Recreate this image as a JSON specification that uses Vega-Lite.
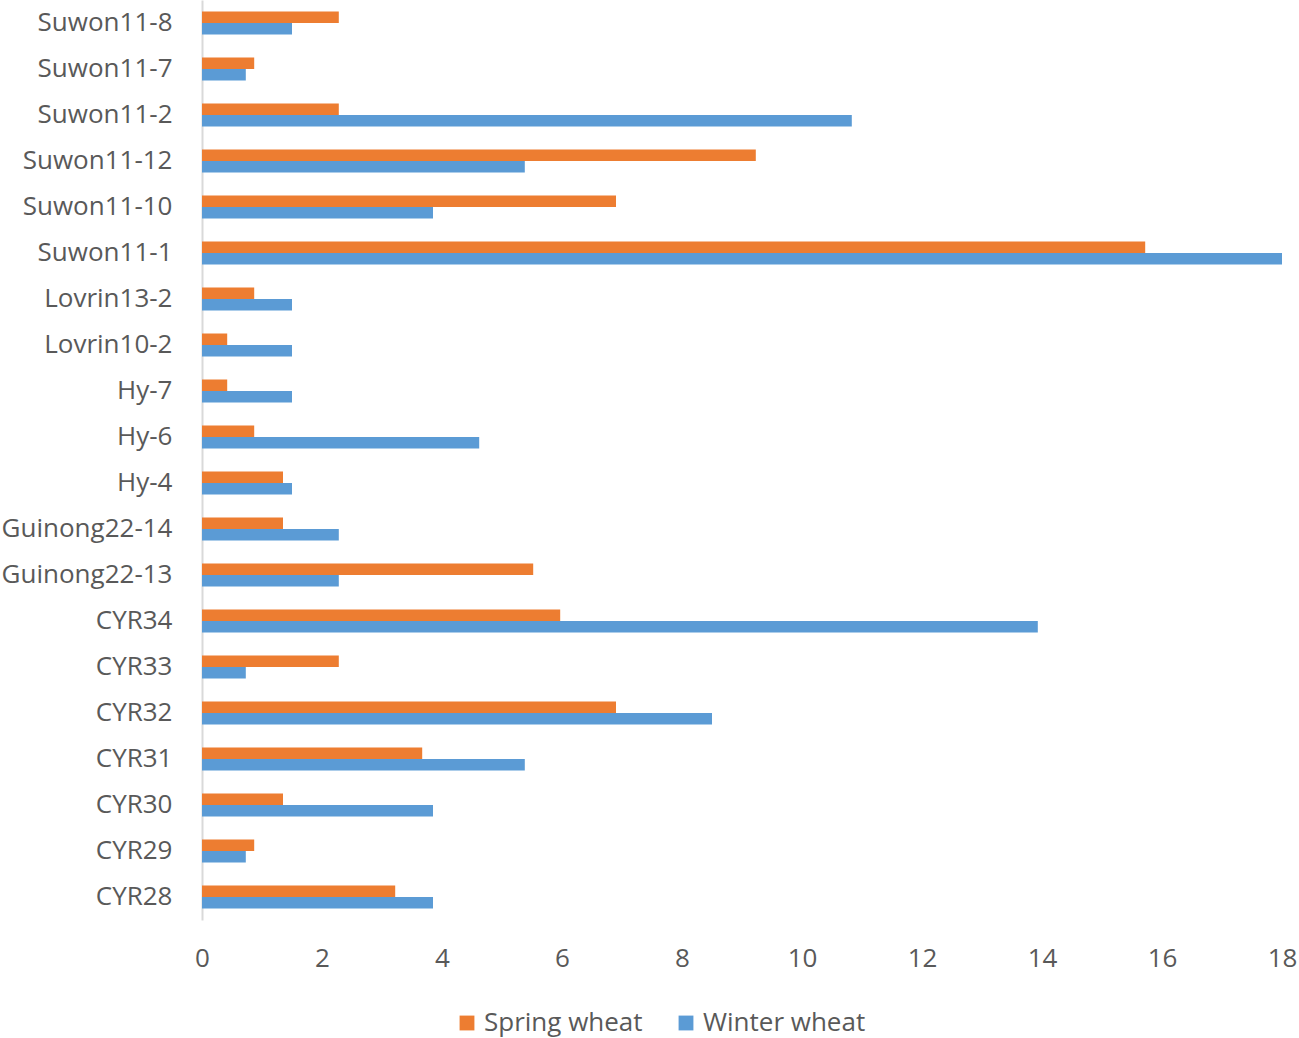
{
  "$schema": "https://vega.github.io/schema/vega-lite/v6.json",
  "width": 1080,
  "height": 920,
  "autosize": "none",
  "padding": {"left": 202, "top": 0, "right": 17, "bottom": 118},
  "background": "white",
  "config": {
    "view": {"stroke": null},
    "font": "Open Sans",
    "axis": {"labelColor": "#595959", "labelFont": "Open Sans", "grid": false, "ticks": false},
    "legend": {"labelColor": "#595959", "labelFont": "Open Sans"}
  },
  "data": {
    "values": [
      {"isolate": "Suwon11-8", "host": "Spring wheat", "pct": 2.28},
      {"isolate": "Suwon11-8", "host": "Winter wheat", "pct": 1.5},
      {"isolate": "Suwon11-7", "host": "Spring wheat", "pct": 0.87},
      {"isolate": "Suwon11-7", "host": "Winter wheat", "pct": 0.73},
      {"isolate": "Suwon11-2", "host": "Spring wheat", "pct": 2.28},
      {"isolate": "Suwon11-2", "host": "Winter wheat", "pct": 10.83},
      {"isolate": "Suwon11-12", "host": "Spring wheat", "pct": 9.23},
      {"isolate": "Suwon11-12", "host": "Winter wheat", "pct": 5.38},
      {"isolate": "Suwon11-10", "host": "Spring wheat", "pct": 6.9},
      {"isolate": "Suwon11-10", "host": "Winter wheat", "pct": 3.85},
      {"isolate": "Suwon11-1", "host": "Spring wheat", "pct": 15.72},
      {"isolate": "Suwon11-1", "host": "Winter wheat", "pct": 18.0},
      {"isolate": "Lovrin13-2", "host": "Spring wheat", "pct": 0.87},
      {"isolate": "Lovrin13-2", "host": "Winter wheat", "pct": 1.5},
      {"isolate": "Lovrin10-2", "host": "Spring wheat", "pct": 0.42},
      {"isolate": "Lovrin10-2", "host": "Winter wheat", "pct": 1.5},
      {"isolate": "Hy-7", "host": "Spring wheat", "pct": 0.42},
      {"isolate": "Hy-7", "host": "Winter wheat", "pct": 1.5},
      {"isolate": "Hy-6", "host": "Spring wheat", "pct": 0.87},
      {"isolate": "Hy-6", "host": "Winter wheat", "pct": 4.62},
      {"isolate": "Hy-4", "host": "Spring wheat", "pct": 1.35},
      {"isolate": "Hy-4", "host": "Winter wheat", "pct": 1.5},
      {"isolate": "Guinong22-14", "host": "Spring wheat", "pct": 1.35},
      {"isolate": "Guinong22-14", "host": "Winter wheat", "pct": 2.28},
      {"isolate": "Guinong22-13", "host": "Spring wheat", "pct": 5.52},
      {"isolate": "Guinong22-13", "host": "Winter wheat", "pct": 2.28},
      {"isolate": "CYR34", "host": "Spring wheat", "pct": 5.97},
      {"isolate": "CYR34", "host": "Winter wheat", "pct": 13.93},
      {"isolate": "CYR33", "host": "Spring wheat", "pct": 2.28},
      {"isolate": "CYR33", "host": "Winter wheat", "pct": 0.73},
      {"isolate": "CYR32", "host": "Spring wheat", "pct": 6.9},
      {"isolate": "CYR32", "host": "Winter wheat", "pct": 8.5},
      {"isolate": "CYR31", "host": "Spring wheat", "pct": 3.67},
      {"isolate": "CYR31", "host": "Winter wheat", "pct": 5.38},
      {"isolate": "CYR30", "host": "Spring wheat", "pct": 1.35},
      {"isolate": "CYR30", "host": "Winter wheat", "pct": 3.85},
      {"isolate": "CYR29", "host": "Spring wheat", "pct": 0.87},
      {"isolate": "CYR29", "host": "Winter wheat", "pct": 0.73},
      {"isolate": "CYR28", "host": "Spring wheat", "pct": 3.22},
      {"isolate": "CYR28", "host": "Winter wheat", "pct": 3.85}
    ]
  },
  "mark": {"type": "bar"},
  "encoding": {
    "y": {
      "field": "isolate",
      "type": "nominal",
      "sort": null,
      "title": null,
      "scale": {"paddingInner": 0.5, "paddingOuter": 0.25},
      "axis": {"labelFontSize": 26, "labelPadding": 30, "domainColor": "#D9D9D9", "domainWidth": 2}
    },
    "yOffset": {
      "field": "host",
      "type": "nominal",
      "sort": ["Spring wheat", "Winter wheat"]
    },
    "x": {
      "field": "pct",
      "type": "quantitative",
      "title": null,
      "scale": {"domain": [0, 18], "nice": false},
      "axis": {"values": [0, 2, 4, 6, 8, 10, 12, 14, 16, 18], "labelFontSize": 26, "labelPadding": 25, "domain": false, "labelFlush": false}
    },
    "color": {
      "field": "host",
      "type": "nominal",
      "scale": {"domain": ["Spring wheat", "Winter wheat"], "range": ["#ED7D31", "#5B9BD5"]},
      "legend": {
        "title": null,
        "orient": "none",
        "direction": "horizontal",
        "legendX": 252,
        "legendY": 1010,
        "symbolType": "square",
        "symbolSize": 220,
        "symbolStrokeWidth": 0,
        "labelFontSize": 26,
        "labelLimit": 400,
        "columnPadding": 30
      }
    }
  }
}
